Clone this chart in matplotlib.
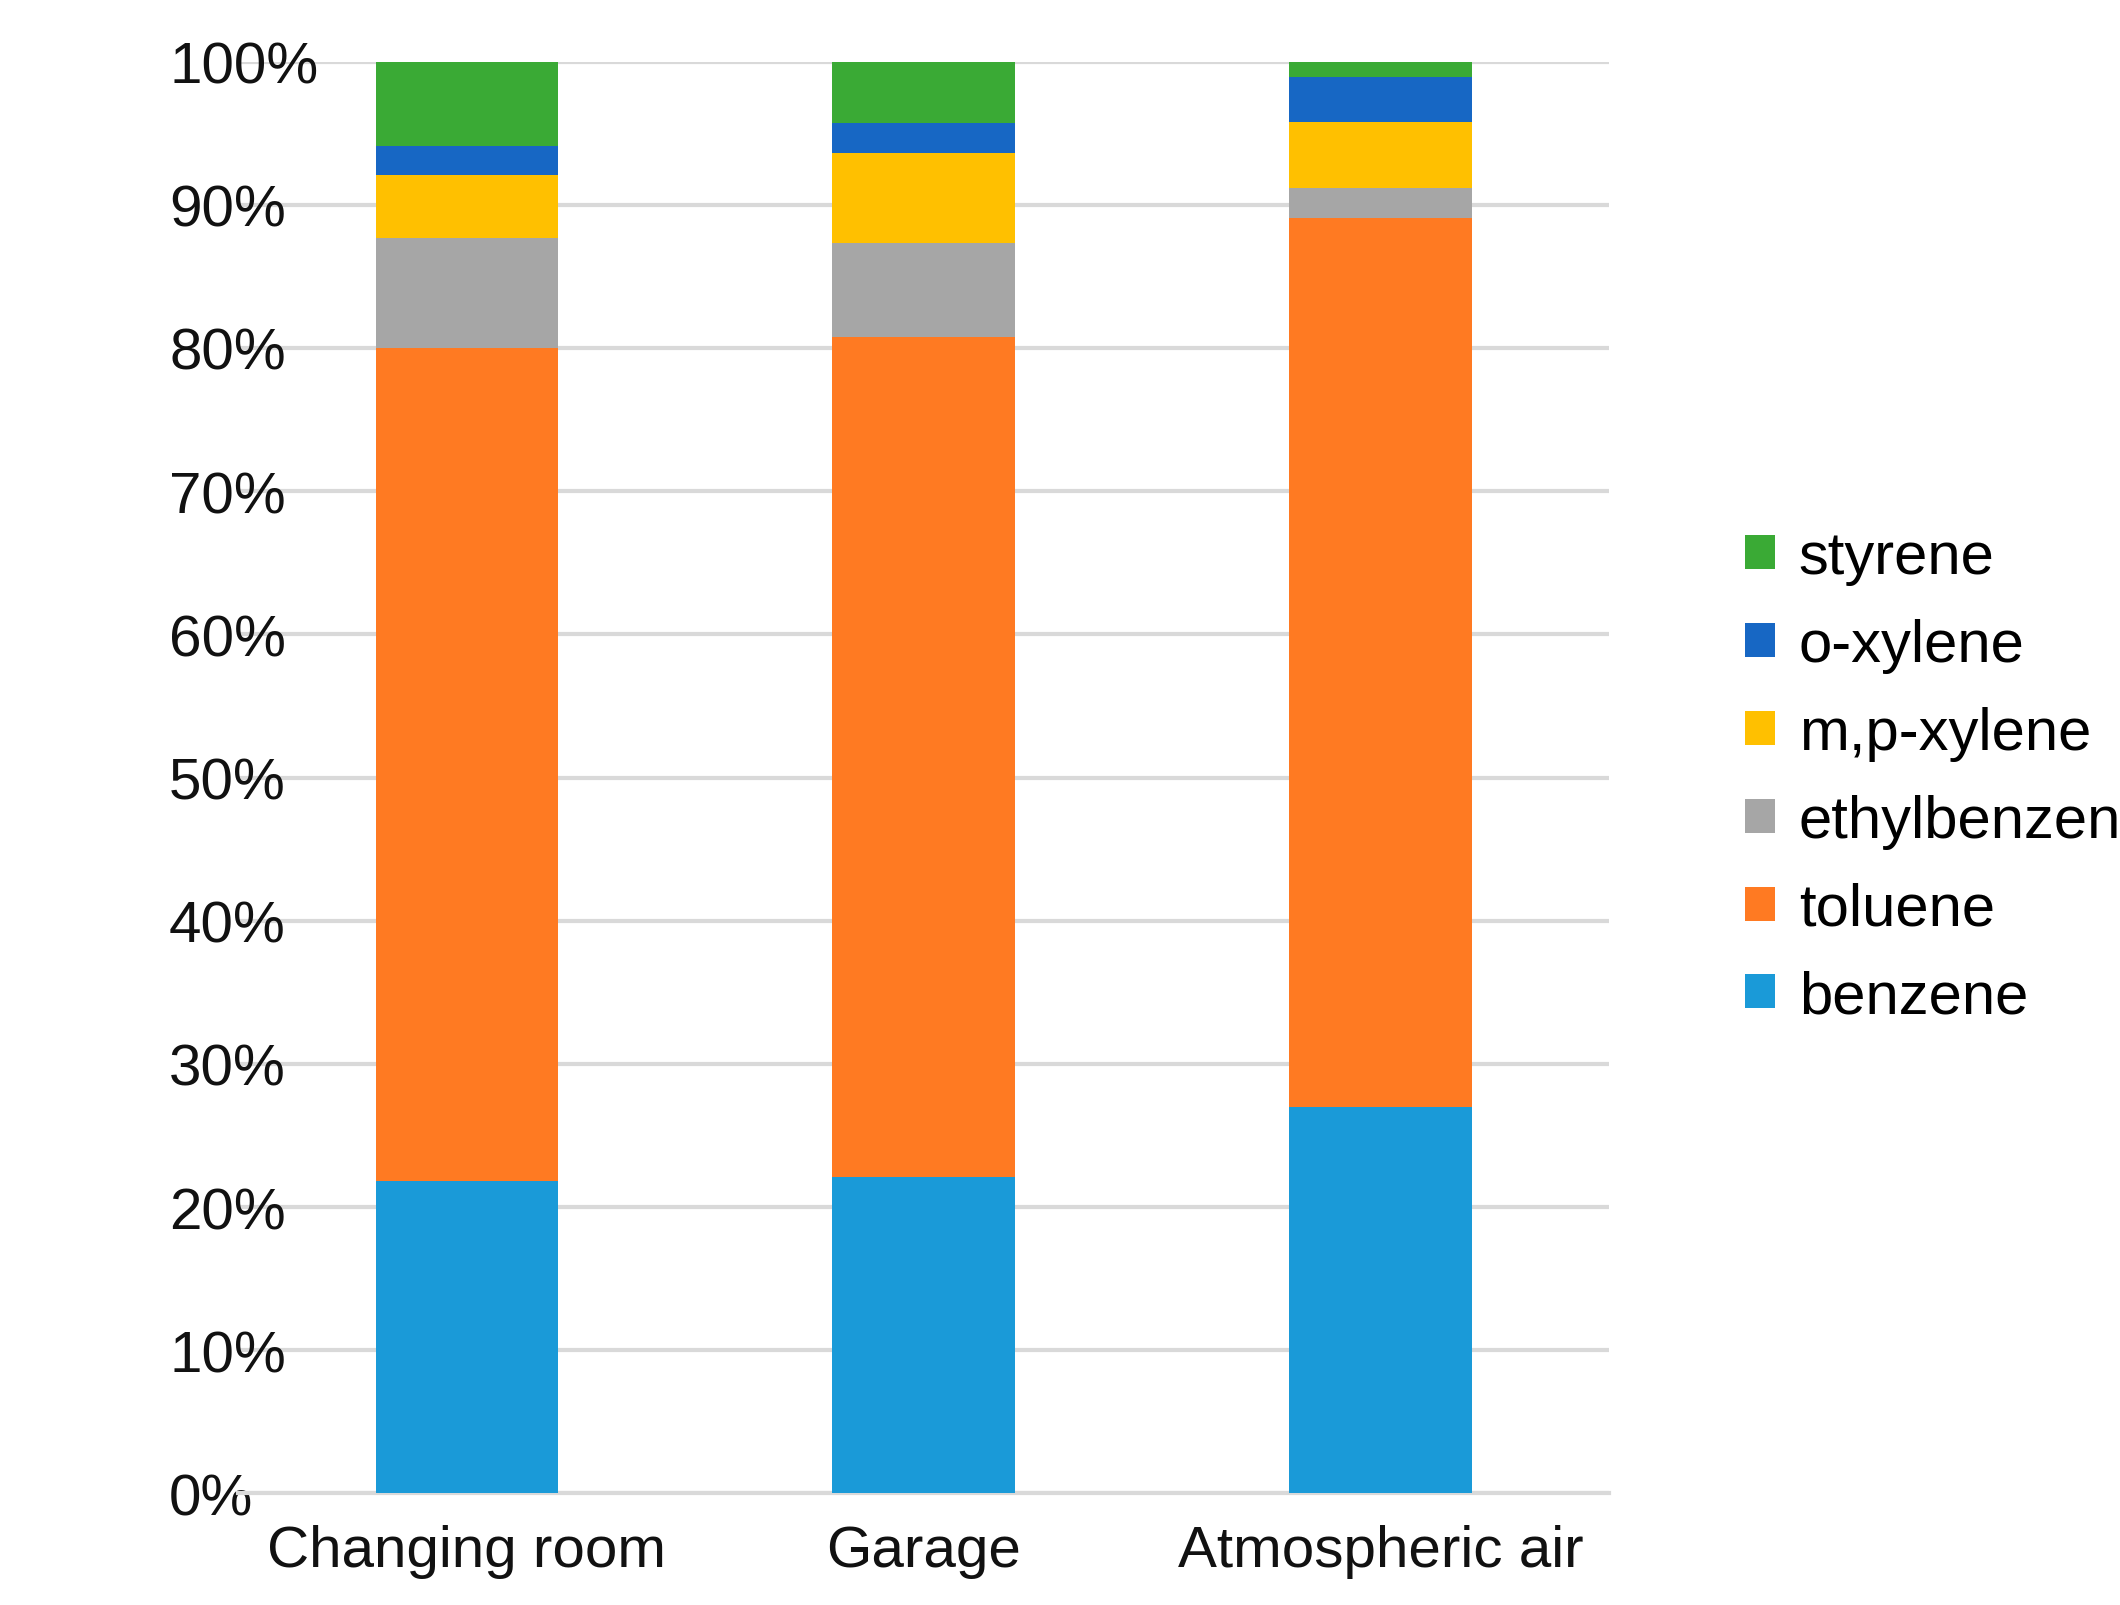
import matplotlib
matplotlib.use("Agg")
import matplotlib.pyplot as plt
import numpy as np

categories = ["Changing room", "Garage", "Atmospheric air"]
series = ["benzene", "toluene", "ethylbenzene", "m,p-xylene", "o-xylene", "styrene"]
benzene = [21.8, 22.1, 27.0]
toluene = [58.2, 58.7, 62.1]
ethylbenzene = [7.7, 6.5, 2.1]
mp_xylene = [4.4, 6.3, 4.6]
o_xylene = [2.0, 2.1, 3.1]
styrene = [5.9, 4.3, 1.1]
colors = ["#1a9ad8", "#ff7a22", "#a6a6a6", "#ffc000", "#1767c4", "#3aaa35"]

plt.rcParams['font.family'] = ['Liberation Sans', 'DejaVu Sans']
fig = plt.figure(figsize=(21.2, 16.06), dpi=100)
ax = fig.add_axes([0.1125, 0.0695, 0.6465, 0.8915])
x = np.arange(len(categories))
bottom = np.zeros(len(categories))
handles = []
for name, vals, c in zip(series, [benzene, toluene, ethylbenzene, mp_xylene, o_xylene, styrene], colors):
    h = ax.bar(x, vals, 0.4, bottom=bottom, color=c, label=name, zorder=3)
    handles.append(h)
    bottom += np.array(vals)
ax.set_xlim(-0.5, 2.5)
ax.set_ylim(0, 100)
ax.set_yticks(range(0, 101, 10))
ax.set_yticklabels([f"{v}%" for v in range(0, 101, 10)])
ax.set_xticks(x)
ax.set_xticklabels(categories)
ax.tick_params(axis='both', length=0, labelsize=42, colors='#111111')
ax.tick_params(axis='y', pad=50)
ax.tick_params(axis='x', pad=22)
for lbl in ax.get_yticklabels():
    lbl.set_horizontalalignment('left')
ax.grid(axis='y', color='#d9d9d9', linewidth=3, zorder=0)
for s in ['top', 'right', 'left']:
    ax.spines[s].set_visible(False)
ax.spines['bottom'].set_color('#d9d9d9')
ax.spines['bottom'].set_linewidth(3)
ax.legend(handles[::-1], series[::-1], loc='center left', bbox_to_anchor=(1.06, 0.5),
          frameon=False, fontsize=43, handlelength=0.5, handleheight=0.5,
          handletextpad=0.4, labelspacing=0.55)
fig.savefig("out.png", dpi=100)
